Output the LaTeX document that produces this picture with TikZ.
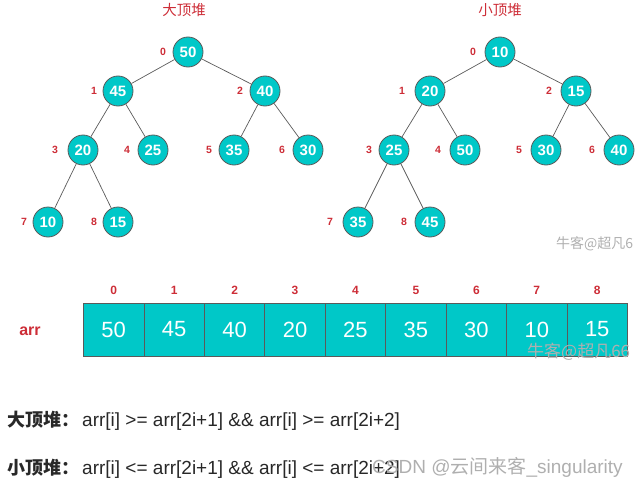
\documentclass[tikz,border=0pt]{standalone}
\usepackage{fontspec}
\setmainfont{Liberation Sans}
\newfontfamily\cjk{Noto Sans CJK SC}
\definecolor{hred}{RGB}{205,45,55}
\definecolor{hcyan}{RGB}{0,200,200}
\definecolor{hedge}{RGB}{90,90,90}
\definecolor{htext}{RGB}{40,40,40}
\definecolor{wmark}{RGB}{175,175,175}
\tikzset{
  hnode/.style={circle, draw=hedge, fill=hcyan, minimum size=30pt, inner sep=0pt,
    text=white, font=\bfseries\fontsize{15}{15}\selectfont, line width=0.8pt},
  idx/.style={text=hred, font=\bfseries\fontsize{10.5}{10.5}\selectfont, inner sep=0pt},
  aidx/.style={text=hred, font=\bfseries\fontsize{12}{12}\selectfont, inner sep=0pt},
  hlink/.style={draw=hedge, line width=0.7pt},
  cell/.style={draw=hedge, fill=hcyan, minimum width=60.44pt, minimum height=53pt,
    inner sep=0pt, text=white, font=\fontsize{22}{22}\selectfont, line width=0.8pt},
  htitle/.style={text=hred, font=\cjk\fontsize{14.5}{14.5}\selectfont, inner sep=0pt},
  formula/.style={anchor=west, text=htext, font=\fontsize{19}{19}\selectfont, inner sep=0pt},
  wm/.style={anchor=west, text=wmark, inner sep=0pt},
}
\begin{document}
\begin{tikzpicture}[x=1pt,y=-1pt]
\useasboundingbox (0,0) rectangle (637,487);
% titles
\node[htitle] (t1) at (184,10) {大顶堆};
\node[htitle] (t2) at (500,10) {小顶堆};
% big heap
\node[hnode] (b0) at (188,52) {50};
\node[hnode] (b1) at (118,91) {45};
\node[hnode] (b2) at (265,91) {40};
\node[hnode] (b3) at (83,150) {20};
\node[hnode] (b4) at (153,150) {25};
\node[hnode] (b5) at (234,150) {35};
\node[hnode] (b6) at (308,150) {30};
\node[hnode] (b7) at (48,222) {10};
\node[hnode] (b8) at (118,222) {15};
\draw[hlink] (b0) -- (b1); \draw[hlink] (b0) -- (b2);
\draw[hlink] (b1) -- (b3); \draw[hlink] (b1) -- (b4);
\draw[hlink] (b2) -- (b5); \draw[hlink] (b2) -- (b6);
\draw[hlink] (b3) -- (b7); \draw[hlink] (b3) -- (b8);
\node[idx] (bi0) at (163,52) {0};
\node[idx] (bi1) at (94,91) {1};
\node[idx] (bi2) at (240,91) {2};
\node[idx] (bi3) at (55,150) {3};
\node[idx] (bi4) at (127,150) {4};
\node[idx] (bi5) at (209,150) {5};
\node[idx] (bi6) at (282,150) {6};
\node[idx] (bi7) at (24,222) {7};
\node[idx] (bi8) at (94,222) {8};
% small heap
\node[hnode] (s0) at (500,52) {10};
\node[hnode] (s1) at (430,91) {20};
\node[hnode] (s2) at (576,91) {15};
\node[hnode] (s3) at (394,150) {25};
\node[hnode] (s4) at (465,150) {50};
\node[hnode] (s5) at (546,150) {30};
\node[hnode] (s6) at (619,150) {40};
\node[hnode] (s7) at (358,222) {35};
\node[hnode] (s8) at (430,222) {45};
\draw[hlink] (s0) -- (s1); \draw[hlink] (s0) -- (s2);
\draw[hlink] (s1) -- (s3); \draw[hlink] (s1) -- (s4);
\draw[hlink] (s2) -- (s5); \draw[hlink] (s2) -- (s6);
\draw[hlink] (s3) -- (s7); \draw[hlink] (s3) -- (s8);
\node[idx] (si0) at (473,52) {0};
\node[idx] (si1) at (402,91) {1};
\node[idx] (si2) at (549,91) {2};
\node[idx] (si3) at (369,150) {3};
\node[idx] (si4) at (438,150) {4};
\node[idx] (si5) at (519,150) {5};
\node[idx] (si6) at (592,150) {6};
\node[idx] (si7) at (330,222) {7};
\node[idx] (si8) at (404,222) {8};
% array
\node[aidx, font=\bfseries\fontsize{16}{16}\selectfont] (arrlbl) at (30,331) {arr};
\foreach \v [count=\i from 0] in {50,45,40,20,25,35,30,10,15} {
  \node[cell] (a\i) at ({83.5+30.22+60.44*\i},329.5) {\v};
  \node[aidx] (ai\i) at ({83.5+30.22+60.44*\i},290) {\i};
}
% watermarks
\node[wm, font=\cjk\fontsize{14}{14}\selectfont] (w1) at (556,244) {牛客@超凡6};
\node[wm, font=\cjk\fontsize{17}{17}\selectfont] (w2) at (527,352) {牛客@超凡66};
% formulas
\node[formula] (f1) at (7,421) {{\cjk\bfseries\fontsize{18}{18}\selectfont 大顶堆：}\hspace{3pt}arr[i] >= arr[2i+1] \&\& arr[i] >= arr[2i+2]};
\node[formula] (f2) at (7,469) {{\cjk\bfseries\fontsize{18}{18}\selectfont 小顶堆：}\hspace{3pt}arr[i] <= arr[2i+1] \&\& arr[i] <= arr[2i+2]};
\node[wm, font=\fontsize{19}{19}\selectfont] (w3) at (372,467) {CSDN @{\cjk 云间来客}\_singularity};
\end{tikzpicture}
\end{document}
